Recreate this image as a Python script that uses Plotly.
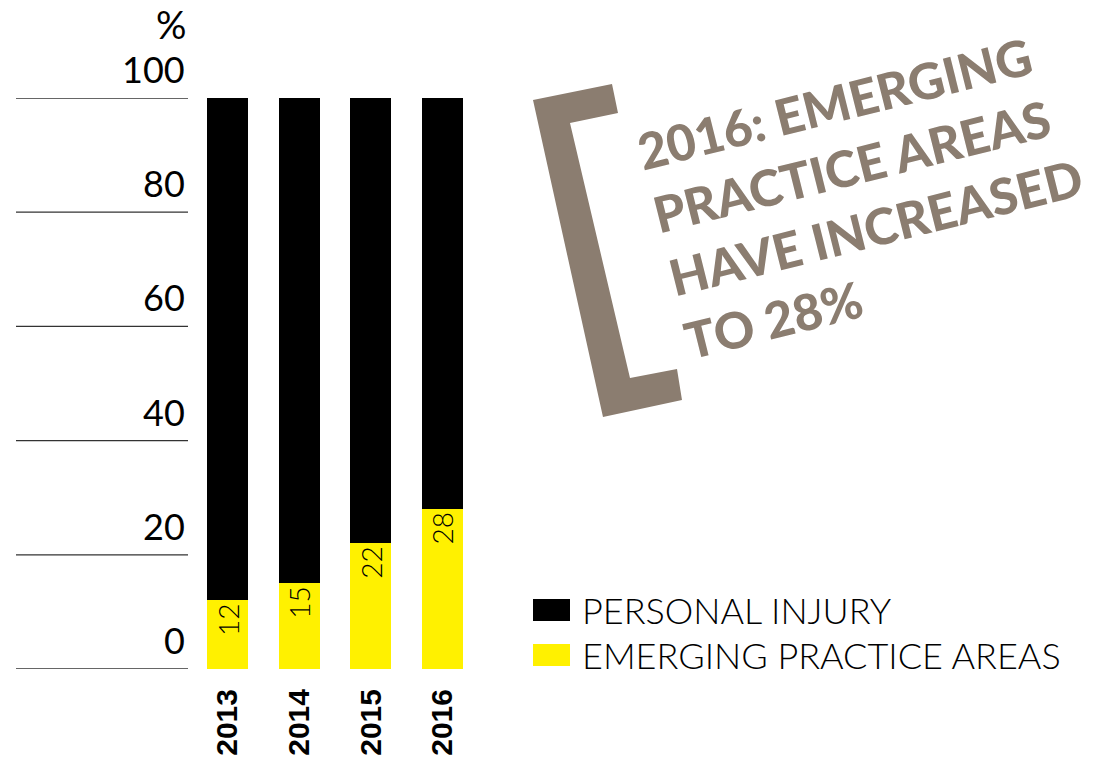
import plotly.graph_objects as go

# ---- data ----
years = ["2013", "2014", "2015", "2016"]
emerging = [12, 15, 22, 28]
personal_injury = [88, 85, 78, 72]
y_ticks = [0, 20, 40, 60, 80, 100]
series_names = ["PERSONAL INJURY", "EMERGING PRACTICE AREAS"]
callout_lines = ["2016: EMERGING", "PRACTICE AREAS", "HAVE INCREASED", "TO 28%"]

W, H = 1110, 777
YELLOW = "#FFF100"
BLACK = "#000000"
TAUPE = "#8B7D70"
FONT = "Lato"


def px(x):
    return x / W


def py(y):
    return 1 - y / H


fig = go.Figure()

fig.add_bar(
    x=years, y=emerging, name=series_names[1],
    marker=dict(color=YELLOW, line=dict(width=0)),
    text=[str(v) for v in emerging], textposition="inside",
    insidetextanchor="end", textangle=-90, constraintext="none",
    textfont=dict(family=FONT, size=28, color=BLACK, weight=300),
)
fig.add_bar(
    x=years, y=personal_injury, name=series_names[0],
    marker=dict(color=BLACK, line=dict(width=0)),
)

fig.update_layout(
    barmode="stack", bargap=0.43,
    width=W, height=H,
    margin=dict(l=0, r=0, t=0, b=0),
    showlegend=False,
    plot_bgcolor="white", paper_bgcolor="white",
)
fig.update_xaxes(
    domain=[px(191.7), px(478.3)], showgrid=False, zeroline=False,
    showline=False, ticks="", tickangle=-90, automargin=False,
    tickfont=dict(family="Liberation Sans, Arial, sans-serif", size=30,
                  color=BLACK, weight="bold"),
    ticklabelstandoff=13,
)
fig.update_yaxes(
    domain=[py(669), py(98)], range=[0, 100], showgrid=False,
    zeroline=False, showticklabels=False, automargin=False,
)

# short rules to the left of the bars, with their values sitting above
for v in y_ticks:
    fig.add_shape(type="line", xref="paper", yref="y",
                  x0=px(16), x1=px(188), y0=v, y1=v,
                  line=dict(color="#333333", width=1.3))
    fig.add_annotation(x=px(187), y=v, xref="paper", yref="y",
                       text=str(v), showarrow=False,
                       xanchor="right", yanchor="middle", yshift=29,
                       font=dict(family=FONT, size=36, color=BLACK))

fig.add_annotation(x=px(188), y=py(24), xref="paper", yref="paper",
                   text="%", showarrow=False, xanchor="right", yanchor="middle",
                   font=dict(family=FONT, size=38, color=BLACK))

# legend
legend_rows = [(series_names[0], BLACK, 610), (series_names[1], YELLOW, 655)]
for name, color, cy in legend_rows:
    fig.add_shape(type="rect", xref="paper", yref="paper",
                  x0=px(533), x1=px(570), y0=py(cy - 11), y1=py(cy + 11),
                  fillcolor=color, line=dict(width=0))
    fig.add_annotation(x=px(580), y=py(cy), xref="paper", yref="paper",
                       text=name, showarrow=False, xanchor="left",
                       yanchor="middle",
                       font=dict(family=FONT, size=36, color=BLACK, weight=300))

# callout bracket
bracket = [(533, 100), (612, 84), (618, 113), (570, 123),
           (630, 378), (677, 369), (682, 400), (603, 417)]
path = "M " + " L ".join(f"{px(x):.5f},{py(y):.5f}" for x, y in bracket) + " Z"
fig.add_shape(type="path", xref="paper", yref="paper", path=path,
              fillcolor=TAUPE, line=dict(width=0))

fig.add_annotation(x=px(868), y=py(196), xref="paper", yref="paper",
                   text="<br>".join(callout_lines), showarrow=False,
                   xanchor="center", yanchor="middle", align="left",
                   textangle=-14,
                   font=dict(family=FONT, size=50, color=TAUPE, weight=900))

fig.write_html("out.html")
